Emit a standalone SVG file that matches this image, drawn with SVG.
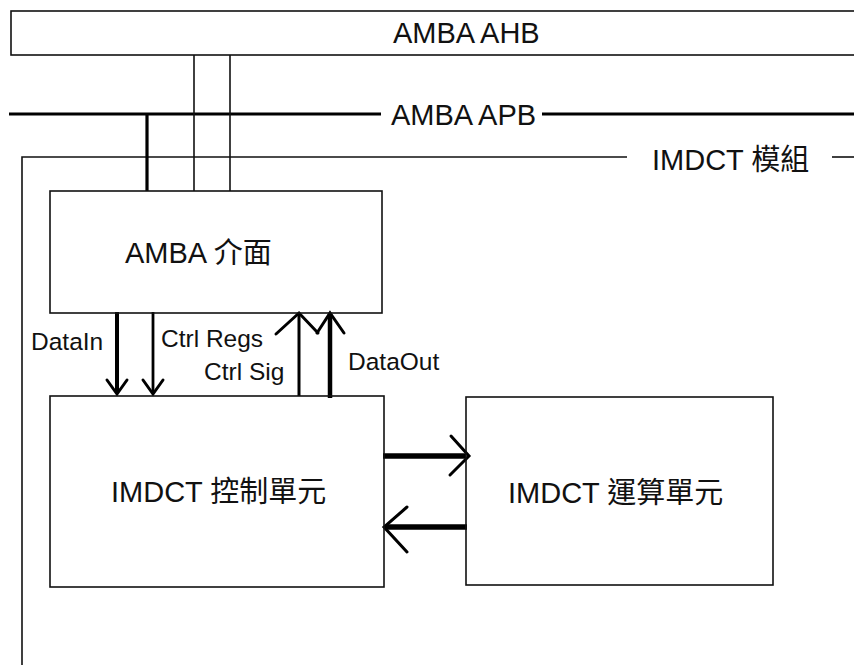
<svg xmlns="http://www.w3.org/2000/svg" width="854" height="665" viewBox="0 0 854 665">
<style>
  .box { fill: none; stroke: #111; stroke-width: 1.6; }
  .ln { fill: none; stroke: #111; stroke-width: 1.6; }
  .bus { fill: none; stroke: #000; stroke-width: 3.2; }
  .head { fill: none; stroke: #000; stroke-width: 3; stroke-linecap: round; stroke-linejoin: miter; }
  .lbl { font-family: "Liberation Sans", "Noto Sans CJK TC", sans-serif; font-size: 29px; fill: #111; }
  .sm { font-family: "Liberation Sans", "Noto Sans CJK TC", sans-serif; font-size: 24.5px; fill: #111; }
</style>
<rect x="0" y="0" width="854" height="665" fill="#fff"/>

<g id="amba-ahb">
  <rect class="box" x="11" y="11" width="900" height="44"/>
  <text class="lbl" x="393" y="43">AMBA AHB</text>
</g>

<g id="amba-apb">
  <line class="bus" x1="9" y1="114" x2="381" y2="114"/>
  <line class="bus" x1="542" y1="114" x2="854" y2="114"/>
  <text class="lbl" x="391" y="125">AMBA APB</text>
</g>

<g id="imdct-module">
  <polyline class="ln" points="22,665 22,157 627,157"/>
  <line class="ln" x1="832" y1="157" x2="854" y2="157"/>
  <text class="lbl" x="652" y="170">IMDCT 模組</text>
</g>

<g id="connectors">
  <line class="ln" x1="194" y1="55" x2="194" y2="191"/>
  <line class="ln" x1="230" y1="55" x2="230" y2="191"/>
  <line class="bus" x1="147" y1="114" x2="147" y2="191"/>

  <line stroke="#000" stroke-width="4" x1="117" y1="312" x2="117" y2="393"/>
  <polyline class="head" points="107,380 117,394 127,380"/>
  <line stroke="#000" stroke-width="2.8" x1="153" y1="312" x2="153" y2="393"/>
  <polyline class="head" points="143,380 153,394 163,380"/>

  <line stroke="#000" stroke-width="3" x1="299" y1="396" x2="299" y2="314"/>
  <polyline class="head" points="276,334 299,313 318,333"/>
  <line stroke="#000" stroke-width="4.5" x1="330" y1="398" x2="330" y2="314"/>
  <polyline class="head" points="317,333 330,313 344,333"/>

  <line stroke="#000" stroke-width="5.5" x1="383" y1="456" x2="466" y2="456"/>
  <polyline class="head" stroke-width="5" points="451,436 469,456 450,475"/>
  <line stroke="#000" stroke-width="5.5" x1="386" y1="527" x2="467" y2="527"/>
  <polyline class="head" stroke-width="5" points="407,507 384,527 407,552"/>

  <text class="sm" x="31" y="350">DataIn</text>
  <text class="sm" x="161" y="347">Ctrl Regs</text>
  <text class="sm" x="204" y="380">Ctrl Sig</text>
  <text class="sm" x="348" y="370">DataOut</text>
</g>

<g id="amba-interface">
  <rect class="box" x="50" y="191" width="332" height="122"/>
  <text class="lbl" x="125" y="263">AMBA 介面</text>
</g>

<g id="ctrl-unit">
  <rect class="box" x="50" y="396" width="334" height="191"/>
  <text class="lbl" x="111" y="502">IMDCT 控制單元</text>
</g>

<g id="compute-unit">
  <rect class="box" x="466" y="397" width="307" height="188"/>
  <text class="lbl" x="508" y="503">IMDCT 運算單元</text>
</g>
</svg>
